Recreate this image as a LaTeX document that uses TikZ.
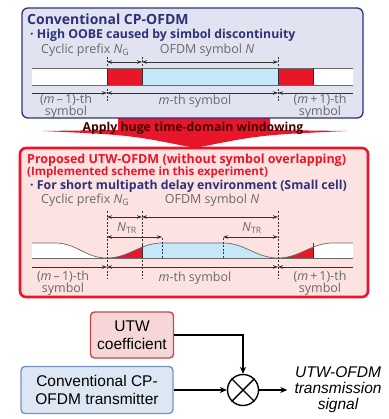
\documentclass[tikz,border=0pt]{standalone}
\usepackage{fontspec}
\setsansfont{Open Sans}
\newfontfamily\arialfont{Liberation Sans}
\usepackage{tikz}
\usetikzlibrary{arrows.meta}
\usetikzlibrary{positioning}
\definecolor{navyC}{RGB}{46,49,120}
\definecolor{greyT}{RGB}{105,105,105}
\definecolor{redC}{RGB}{232,22,40}
\definecolor{blueF}{RGB}{197,232,248}
\definecolor{boxTop}{RGB}{225,228,240}
\definecolor{boxBot}{RGB}{253,226,226}
\definecolor{utwF}{RGB}{246,214,214}
\definecolor{utwD}{RGB}{200,70,76}
\definecolor{txF}{RGB}{220,231,243}
\definecolor{txD}{RGB}{115,148,196}
\definecolor{dimC}{RGB}{50,50,50}
\tikzset{
    ttl/.style = {inner sep=0, anchor=west, text=navyC, font=\sffamily\bfseries\fontsize{14}{14}\selectfont},
    ttlr/.style = {ttl, text=redC, font=\sffamily\bfseries\fontsize{12.5}{14}\selectfont},
    bul/.style = {ttl, font=\sffamily\bfseries\fontsize{12.3}{14}\selectfont},
    lbl/.style = {inner sep=0, text=greyT, align=center, font=\sffamily\fontsize{12.5}{10.5}\selectfont},
    blk/.style = {draw, line width=1.4pt, rounded corners=4pt, align=center, font=\arialfont\fontsize{15.5}{18}\selectfont},
}
\begin{document}
\begin{tikzpicture}[x=1pt, y=-1pt]
\tikzset{
    dim/.style = {draw=dimC, line width=0.6pt, {Stealth[length=5pt,width=3.5pt]}-{Stealth[length=5pt,width=3.5pt]}},
    axr/.style = {draw=dimC, line width=0.6pt, -{Stealth[length=5pt,width=3.5pt]}},
    tick/.style = {draw=dimC, line width=0.8pt, dash pattern=on 2pt off 1.5pt},
    wave/.style = {draw=greyT, line width=0.7pt},
    arr/.style = {draw=black, line width=1.2pt, -{Stealth[length=7pt,width=6pt]}}
}
\useasboundingbox (0,0) rectangle (388,419);
%
% big windowing arrow
\fill[redC] (118,116) -- (270,116) -- (270,130) -- (347,131)
    .. controls (260,135) .. (195,148) .. controls (130,135) .. (43,131)
    -- (118,130) -- cycle;
\node[inner sep=0, text=black!75!red, font=\sffamily\bfseries\fontsize{12.3}{12}\selectfont] (wnd) at (193,128) {Apply huge time-domain windowing};
%
% conventional CP-OFDM
\draw[navyC, line width=1.3pt, fill=boxTop, rounded corners=6pt] (22,8) rectangle (363,118);
\node[ttl] (tconv) at (27,19) {Conventional CP-OFDM};
\node[bul] (tbul) at (30,35) {· High OOBE caused by simbol discontinuity};
\node[lbl, anchor=west] (tcp) at (41,50) {Cyclic prefix \textit{N}\textsubscript{G}};
\node[lbl] (tofdm) at (207,50) {OFDM symbol \textit{N}};
%
\fill[white] (32,68) rectangle (107,85);
\fill[redC] (107,68) rectangle (142,85);
\fill[blueF] (142,68) rectangle (278,85);
\fill[redC] (278,68) rectangle (313,85);
\fill[white] (313,68) rectangle (353,85);
\draw[wave] (32,68) -- (353,68);
\draw[wave] (32,85) -- (353,85);
\draw[dimC, line width=0.4pt] (107,68) -- (107,85) (142,68) -- (142,85)
    (278,68) -- (278,85) (313,68) -- (313,85);
%
\foreach \nm/\x in {a/32,b/107,c/142,d/278,f/353} {
    \coordinate (T\nm) at (\x,62);
    \coordinate (A\nm) at (\x,93);
}
\draw[dim] (Tb) -- (Tc);
\draw[dim] (Tc) -- (Td);
\draw[axr] (Aa) -- (Ab);
\draw[dim] (Ab) -- (Ad);
\draw[axr] (Af) -- (Ad);
\draw[tick] (107,57) -- (107,67) (142,57) -- (142,67) (278,57) -- (278,67);
\draw[tick] (107,89) -- (107,101) (278,89) -- (278,101);
%
\node[lbl] (tprev) at (66,106) {(\textit{m}\,–\,1)-th\\symbol};
\node[lbl] (tcur) at (195,101) {\textit{m}-th symbol};
\node[lbl] (tnext) at (320,106) {(\textit{m}\,+\,1)-th\\symbol};
%
% proposed UTW-OFDM
\draw[redC, line width=2.6pt, fill=boxBot, rounded corners=6pt] (20,148) rectangle (368,297);
\node[ttlr] (pconv) at (27,160) {Proposed UTW-OFDM (without symbol overlapping)};
\node[ttlr, font=\sffamily\bfseries\fontsize{11.5}{14}\selectfont] (pimpl) at (27,173) {(Implemented scheme in this experiment)};
\node[bul] (pbul) at (30,186) {· For short multipath delay environment (Small cell)};
\node[lbl, anchor=west] (pcp) at (41,200) {Cyclic prefix \textit{N}\textsubscript{G}};
\node[lbl] (pofdm) at (212,200) {OFDM symbol \textit{N}};
\node[lbl] (ntrl) at (127,228) {\textit{N}\textsubscript{TR}};
\node[lbl] (ntrr) at (252,228) {\textit{N}\textsubscript{TR}};
%
\begin{scope}
\clip (32,258) -- (32,243) -- (55,243) .. controls (77,243) and (85,258) .. (107,258)
    .. controls (129,258) and (140,243) .. (162,243) -- (223,243)
    .. controls (245,243) and (256,258) .. (278,258)
    .. controls (300,258) and (311,243) .. (333,243) -- (353,243) -- (353,258) -- cycle;
\fill[white] (32,240) rectangle (107,258);
\fill[redC] (107,240) rectangle (142,258);
\fill[blueF] (142,240) rectangle (278,258);
\fill[redC] (278,240) rectangle (313,258);
\fill[white] (313,240) rectangle (353,258);
\end{scope}
\draw[dimC, line width=0.4pt] (142,243) -- (142,258) (313,243) -- (313,258);
\draw[wave] (32,243) -- (55,243) .. controls (77,243) and (85,258) .. (107,258)
    .. controls (129,258) and (140,243) .. (162,243) -- (223,243)
    .. controls (245,243) and (256,258) .. (278,258)
    .. controls (300,258) and (311,243) .. (333,243) -- (353,243);
\draw[wave] (32,258) -- (353,258);
%
\foreach \nm/\x in {a/32,b/107,c/142,e/162,g/223,d/278,f/353} {
    \coordinate (P\nm) at (\x,217);
    \coordinate (Q\nm) at (\x,237);
    \coordinate (B\nm) at (\x,267);
}
\draw[dim] (Pb) -- (Pc);
\draw[dim] (Pc) -- (Pd);
\draw[dim] (Qb) -- (Qe);
\draw[dim] (Qg) -- (Qd);
\draw[axr] (Ba) -- (Bb);
\draw[dim] (Bb) -- (Bd);
\draw[axr] (Bf) -- (Bd);
\draw[tick] (107,211) -- (107,278) (142,211) -- (142,278) (278,211) -- (278,278);
\draw[tick, navyC] (162,238) -- (162,259) (223,238) -- (223,259);
%
\node[lbl] (pprev) at (63,283) {(\textit{m}\,–\,1)-th\\symbol};
\node[lbl] (pcur) at (195,278) {\textit{m}-th symbol};
\node[lbl] (pnext) at (320,283) {(\textit{m}\,+\,1)-th\\symbol};
%
% block diagram
\node[blk, draw=utwD, fill=utwF, minimum width=83pt, minimum height=46pt] (utw) at (132,335) {UTW\\coefficient};
\node[blk, draw=txD, fill=txF, minimum width=152pt, minimum height=47pt] (tx) at (97,390) {Conventional CP-\\OFDM transmitter};
\node[circle, draw, line width=1.4pt, minimum size=31pt, inner sep=0] (mult) at (243,390) {};
\draw[line width=1.4pt] (mult.north east) -- (mult.south west) (mult.north west) -- (mult.south east);
\node[inner sep=0, align=center, font=\arialfont\itshape\fontsize{15.5}{16}\selectfont] (sig) at (338,390) {UTW-OFDM\\transmission\\signal};
%
\draw[arr] (utw.east) -| (mult.north);
\draw[arr] (tx.east) -- (mult.west);
\draw[arr] (mult.east) -- ([xshift=-7pt]sig.west);
\end{tikzpicture}
\end{document}
